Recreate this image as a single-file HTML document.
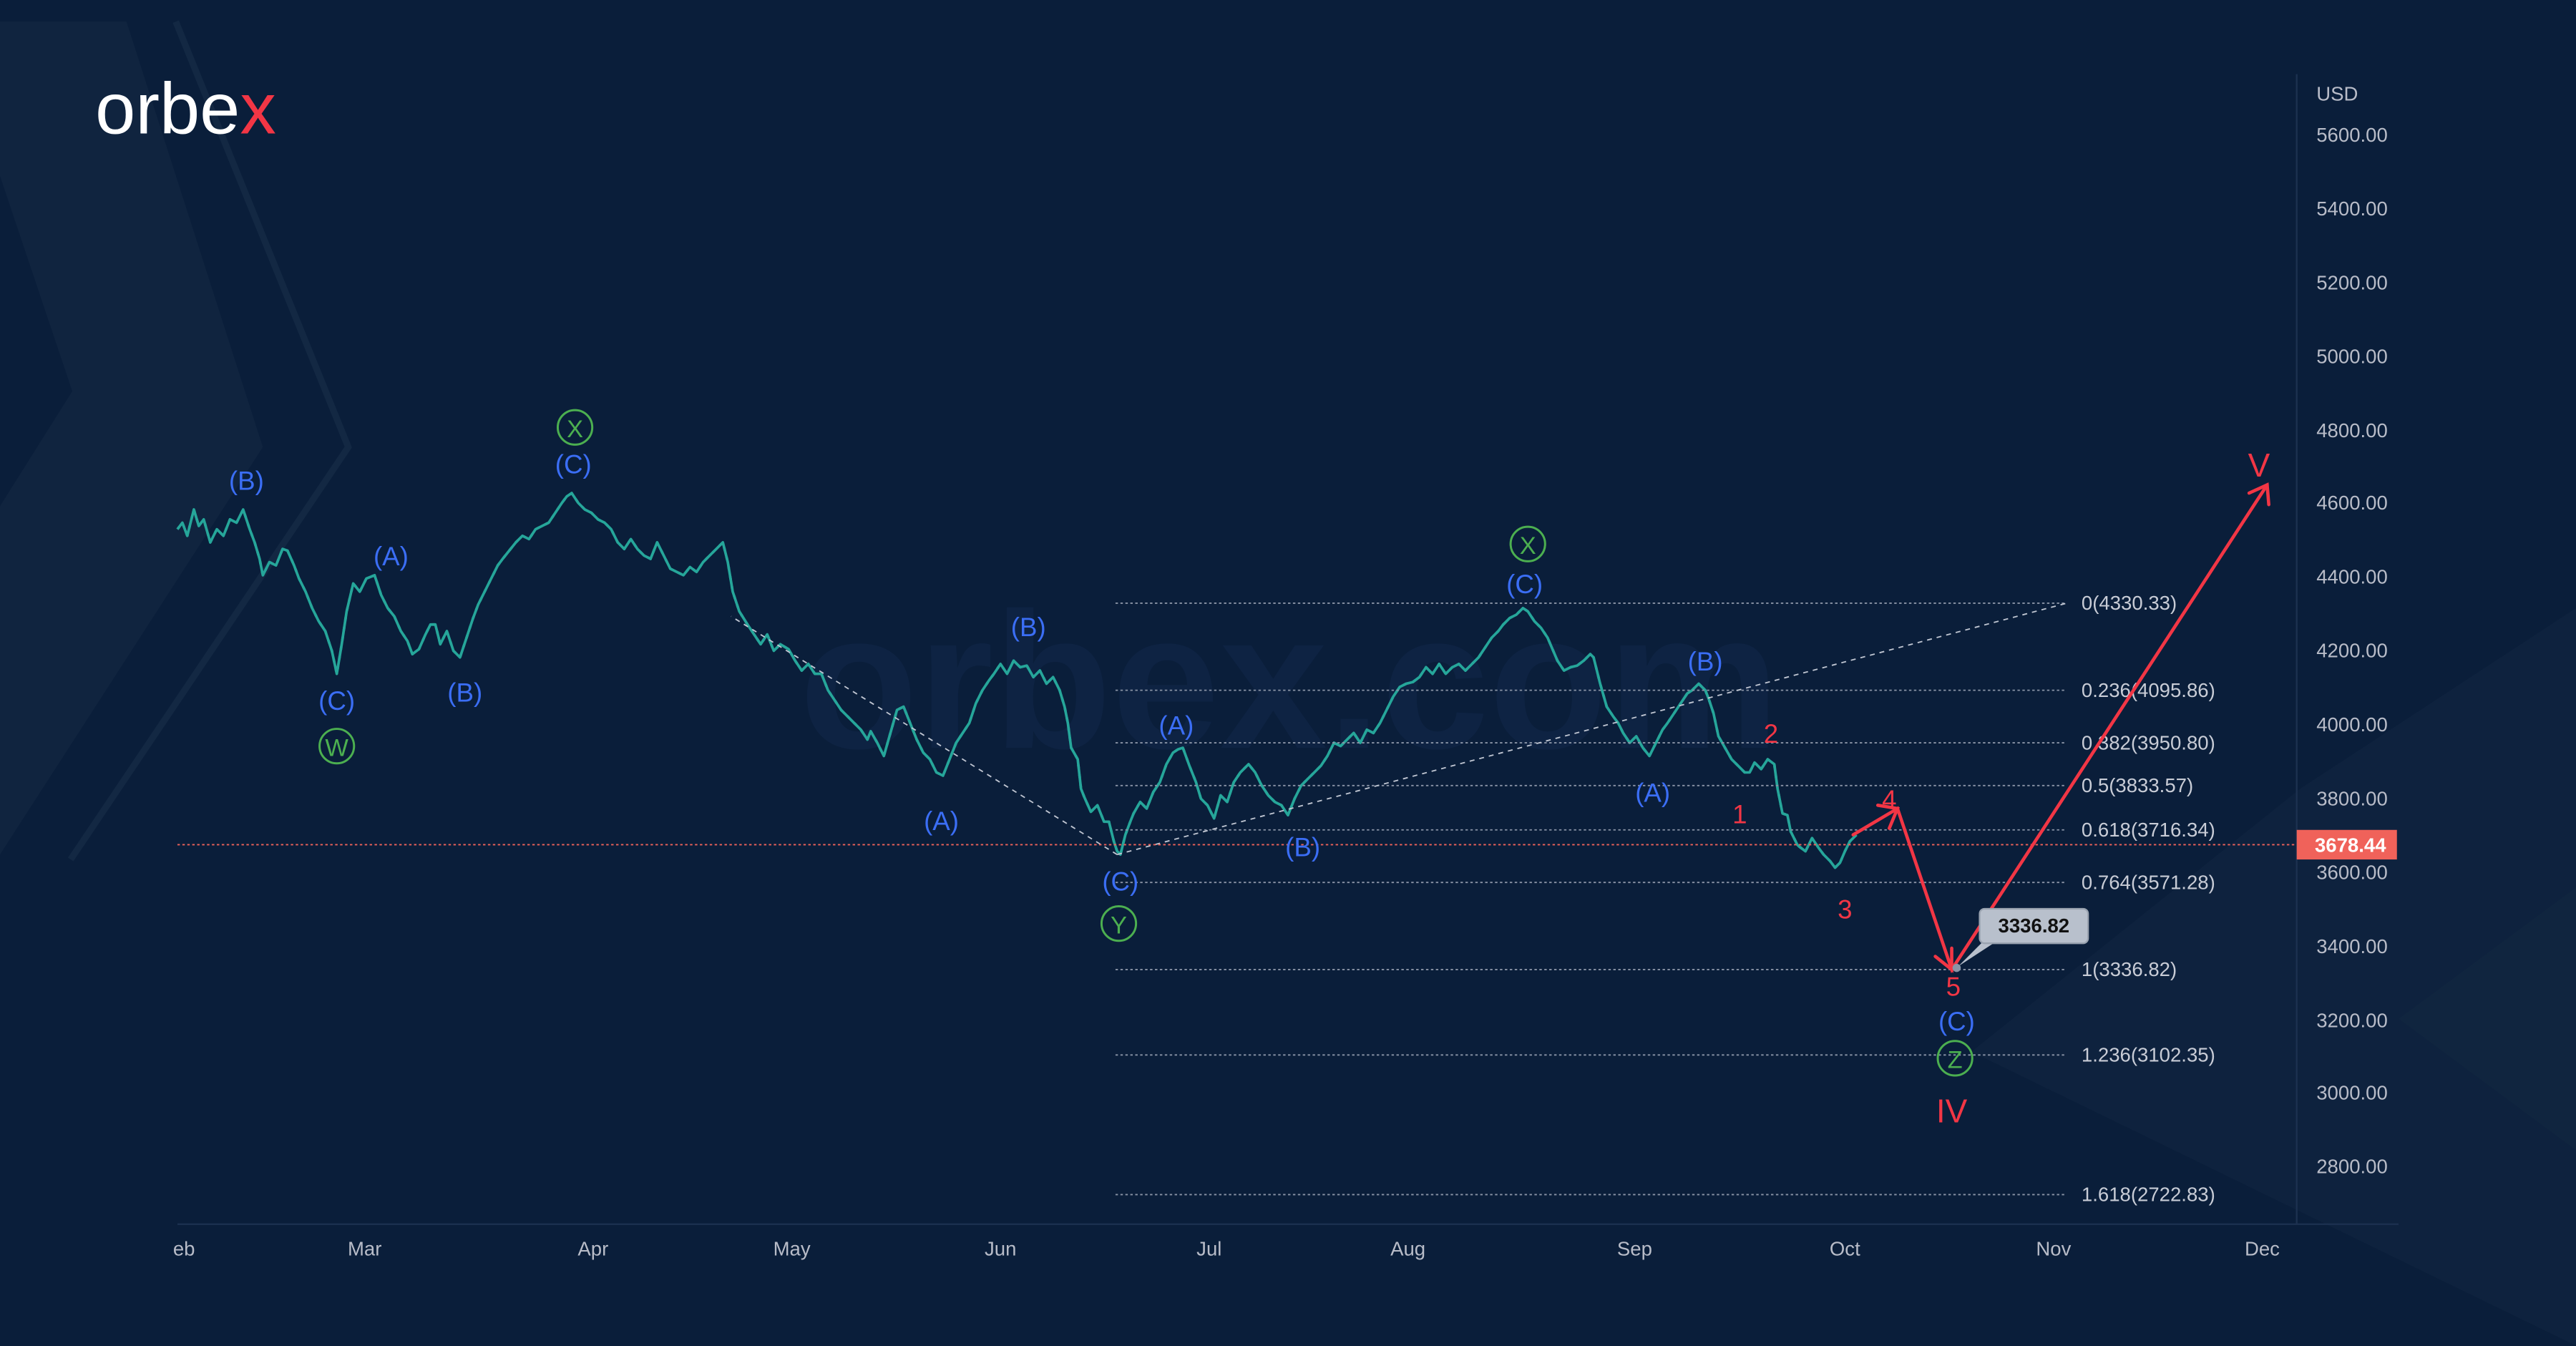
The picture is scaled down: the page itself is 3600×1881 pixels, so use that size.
<!DOCTYPE html>
<html><head><meta charset="utf-8"><style>
html,body{margin:0;padding:0;background:#0a1e3a;}
svg{display:block;}
text{font-family:"Liberation Sans",sans-serif;}
</style></head><body>
<svg width="3600" height="1881" viewBox="0 0 1568 819" xmlns="http://www.w3.org/2000/svg" xmlns:xlink="http://www.w3.org/1999/xlink">
<rect width="1568" height="819" fill="#0a1e3a"/>
<polygon points="0,13 77,13 160,272 0,520" fill="#10243f"/>
<polygon points="0,107 44,238 0,308" fill="#0a1e3a"/>
<polyline points="107,13 212,272 43,523" fill="none" stroke="#132843" stroke-width="4"/>
<polygon points="1568,370 1400,480 1200,640 1568,819" fill="#0e223e"/>
<polygon points="1568,540 1460,620 1568,700" fill="#10253f"/>
<text x="785" y="455" font-size="118" fill="#0e2343" text-anchor="middle" font-weight="bold">orbex.com</text>
<text x="58" y="81" font-size="44" fill="#ffffff">orbe<tspan fill="#f23645">x</tspan></text>
<line x1="1398" y1="45" x2="1398" y2="745" stroke="#1c3150" stroke-width="1"/>
<line x1="108" y1="745" x2="1460" y2="745" stroke="#1c3150" stroke-width="1"/>
<g fill="none" stroke-width="1.6" stroke-linejoin="round">
<polyline id="pr" stroke="#26a69a" points="108,322 111,318 114,326 118,310 121,320 124,316 128,330 132,322 136,326 140,316 144,318 148,310 152,322 155,330 158,340 160,350 164,342 168,344 172,334 175,335 179,344 182,352 186,360 190,370 194,378 198,384 202,396 205,410 208,392 211,372 215,355 219,360 223,352 228,350 232,362 236,370 240,375 244,384 248,390 251,398 255,395 259,386 262,380 265,380 268,392 272,384 276,396 280,400 284,388 288,376 291,368 295,360 299,352 303,344 306,340 310,335 314,330 318,326 322,328 326,322 330,320 334,318 338,312 342,306 345,302 348,300 352,306 356,310 360,312 364,316 368,318 372,322 376,330 380,334 384,328 388,334 392,338 396,340 400,330 404,338 408,346 412,348 416,350 420,345 424,348 428,342 432,338 436,334 440,330 443,342 446,360 450,372 455,380 459,386 463,392 467,386 471,396 475,392 480,395 484,402 488,408 492,404 496,410 500,410 504,420 508,426 512,432 516,436 520,440 524,444 528,450 530,445 534,452 538,460 542,446 546,432 550,430 554,440 558,450 562,458 566,462 570,470 574,472 578,462 582,452 586,446 590,440 594,428 598,420 602,414 605,410 609,404 613,410 617,402 621,406 625,405 629,412 633,408 637,416 641,412 645,420 648,430 650,440 652,455 656,462 658,480 660,485 664,494 668,490 672,500 675,500 678,512 680,518 682,520 685,508 688,500 690,495 694,488 698,492 702,482 706,476 710,465 714,458 717,456 720,455 724,466 728,476 731,486 735,490 739,498 743,484 747,488 751,476 755,470 760,465 764,470 768,478 772,484 776,488 780,490 784,496 788,486 792,478 796,474 800,470 804,466 808,460 812,452 816,454 820,450 824,446 828,452 832,444 836,446 840,440 844,432 848,424 852,418 856,416 860,415 864,412 868,406 872,410 876,404 880,410 884,406 888,404 892,408 896,404 900,400 904,394 908,388 912,384 915,380 919,376 923,374 927,370 930,372 934,378 938,382 942,388 945,395 948,402 952,408 956,406 960,405 964,402 968,398 970,400 974,416 978,430 982,436 985,440 988,446 992,452 996,448 1000,455 1004,460 1008,452 1012,444 1015,440 1019,434 1023,428 1027,422 1030,420 1034,416 1038,420 1040,425 1043,434 1046,448 1050,455 1054,462 1058,466 1062,470 1065,470 1068,464 1072,468 1076,462 1080,465 1082,480 1084,490 1085,495 1088,496 1090,506 1094,514 1095,515 1099,518 1103,510 1107,516 1110,520 1114,524 1117,528 1120,525 1123,518 1126,512 1130,508"/>
<use xlink:href="#pr" href="#pr" stroke="#ef5350" stroke-dasharray="2,4"/>
</g>
<g stroke="#8a94a6" stroke-width="0.8" stroke-dasharray="1.5,1.5">
<line x1="679" y1="367" x2="1258" y2="367"/><line x1="679" y1="420" x2="1258" y2="420"/>
<line x1="679" y1="452" x2="1258" y2="452"/><line x1="679" y1="478" x2="1258" y2="478"/>
<line x1="679" y1="505" x2="1258" y2="505"/><line x1="679" y1="537" x2="1258" y2="537"/>
<line x1="679" y1="590" x2="1258" y2="590"/><line x1="679" y1="642" x2="1258" y2="642"/>
<line x1="679" y1="727" x2="1258" y2="727"/>
</g>
<g stroke="#c0c6d2" stroke-width="0.8" stroke-dasharray="3,3" fill="none">
<line x1="680" y1="520" x2="1258" y2="367"/><line x1="680" y1="520" x2="445" y2="375"/>
</g>
<line x1="108" y1="514" x2="1398" y2="514" stroke="#f0625a" stroke-width="0.8" stroke-dasharray="1.5,1.5"/>
<g font-size="12" fill="#c8ccd6">
<text x="1267" y="371">0(4330.33)</text><text x="1267" y="424">0.236(4095.86)</text>
<text x="1267" y="456">0.382(3950.80)</text><text x="1267" y="482">0.5(3833.57)</text>
<text x="1267" y="509">0.618(3716.34)</text><text x="1267" y="541">0.764(3571.28)</text>
<text x="1267" y="594">1(3336.82)</text><text x="1267" y="646">1.236(3102.35)</text>
<text x="1267" y="731">1.618(2722.83)</text>
</g>
<g font-size="12" fill="#b8bcc8">
<text x="1410" y="61">USD</text>
<text x="1410" y="86">5600.00</text><text x="1410" y="131">5400.00</text>
<text x="1410" y="176">5200.00</text><text x="1410" y="221">5000.00</text>
<text x="1410" y="266">4800.00</text><text x="1410" y="310">4600.00</text>
<text x="1410" y="355">4400.00</text><text x="1410" y="400">4200.00</text>
<text x="1410" y="445">4000.00</text><text x="1410" y="490">3800.00</text>
<text x="1410" y="535">3600.00</text><text x="1410" y="580">3400.00</text>
<text x="1410" y="625">3200.00</text><text x="1410" y="669">3000.00</text>
<text x="1410" y="714">2800.00</text>
</g>
<rect x="1398" y="505" width="61" height="18" fill="#f0625a"/>
<text x="1409" y="518.5" font-size="12" fill="#fff" font-weight="bold">3678.44</text>
<g font-size="12" fill="#b8bcc8" text-anchor="middle">
<text x="112" y="764">eb</text><text x="222" y="764">Mar</text><text x="361" y="764">Apr</text>
<text x="482" y="764">May</text><text x="609" y="764">Jun</text><text x="736" y="764">Jul</text>
<text x="857" y="764">Aug</text><text x="995" y="764">Sep</text><text x="1123" y="764">Oct</text>
<text x="1250" y="764">Nov</text><text x="1377" y="764">Dec</text>
</g>
<g stroke="#f23645" stroke-width="2" fill="none" stroke-linecap="round">
<polyline points="1128,508 1155,492 1188,590 1380,295"/>
<polyline points="1143,490 1155,492 1150,504"/>
<polyline points="1178,582 1188,590 1188,577"/>
<polyline points="1369,300 1380,295 1381,307"/>
</g>
<polygon points="1207,573 1192,588 1215,573" fill="#b8c0cc"/>
<circle cx="1191" cy="589" r="2.5" fill="#8a94a6"/>
<rect x="1205" y="553" width="66" height="21" rx="3" fill="#b8c0cc" stroke="#9aa3b0"/>
<text x="1238" y="567.5" font-size="12" fill="#111" text-anchor="middle" font-weight="bold">3336.82</text>
<g font-size="16" fill="#3b6ef5" text-anchor="middle">
<text x="150" y="298">(B)</text><text x="238" y="344">(A)</text><text x="205" y="432">(C)</text>
<text x="283" y="427">(B)</text><text x="349" y="288">(C)</text><text x="573" y="505">(A)</text>
<text x="626" y="387">(B)</text><text x="682" y="542">(C)</text><text x="716" y="447">(A)</text>
<text x="793" y="521">(B)</text><text x="928" y="361">(C)</text><text x="1006" y="488">(A)</text>
<text x="1038" y="408">(B)</text><text x="1191" y="627">(C)</text>
</g>
<g font-size="16" fill="#f23645" text-anchor="middle">
<text x="1078" y="452">2</text><text x="1059" y="501">1</text><text x="1150" y="492">4</text>
<text x="1123" y="559">3</text><text x="1189" y="606">5</text>
<text x="1188" y="683" font-size="20">IV</text><text x="1375" y="290" font-size="20">V</text>
</g>
<g stroke="#4caf50" stroke-width="1.3" fill="none">
<circle cx="205" cy="454" r="10.5"/><circle cx="350" cy="260" r="10.5"/>
<circle cx="681" cy="562" r="10.5"/><circle cx="930" cy="331" r="10.5"/>
<circle cx="1190" cy="644" r="10.5"/>
</g>
<g font-size="15" fill="#4caf50" text-anchor="middle">
<text x="205" y="460">W</text><text x="350" y="266">X</text><text x="681" y="568">Y</text>
<text x="930" y="337">X</text><text x="1190" y="650">Z</text>
</g>
</svg>
</body></html>
